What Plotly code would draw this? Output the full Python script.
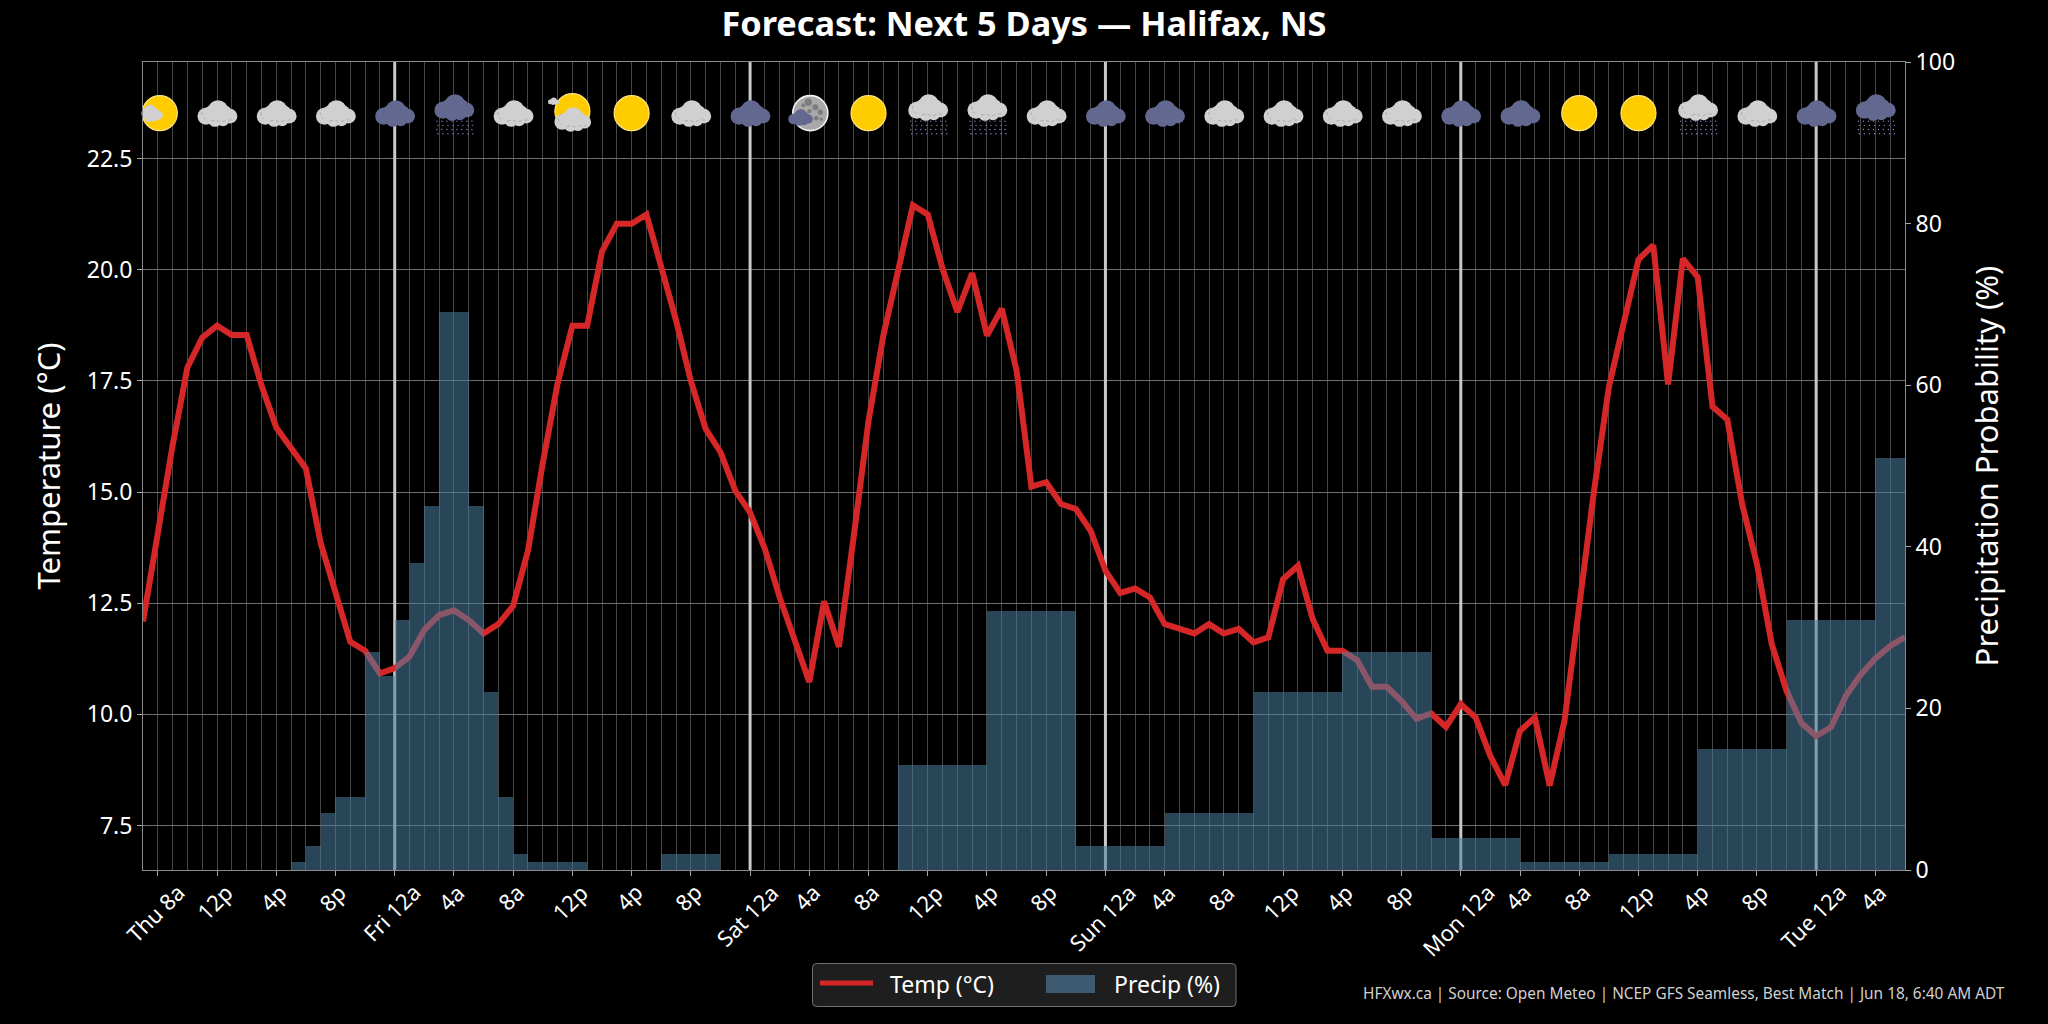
import plotly.graph_objects as go

# Hourly forecast, hour 0 = Thu 7 AM
hours = list(range(120))
temp_c = [12.09, 14.15, 16.05, 17.8, 18.47, 18.74, 18.53, 18.53, 17.4, 16.45, 15.97, 15.53,
          13.85, 12.68, 11.63, 11.43, 10.92, 11.04, 11.3, 11.9, 12.23, 12.34, 12.12, 11.82,
          12.03, 12.44, 13.68, 15.65, 17.44, 18.74, 18.74, 20.41, 21.03, 21.03, 21.24, 20.06,
          18.86, 17.5, 16.42, 15.9, 15.03, 14.54, 13.72, 12.63, 11.65, 10.73, 12.54, 11.52,
          14.0, 16.6, 18.52, 19.98, 21.45, 21.24, 20.02, 19.05, 19.92, 18.52, 19.12, 17.73,
          15.12, 15.22, 14.73, 14.62, 14.13, 13.23, 12.73, 12.83, 12.63, 12.03, 11.93, 11.82,
          12.03, 11.82, 11.92, 11.62, 11.73, 13.04, 13.34, 12.14, 11.43, 11.43, 11.22, 10.62,
          10.62, 10.3, 9.9, 10.02, 9.72, 10.23, 9.93, 9.06, 8.41, 9.63, 9.93, 8.4,
          9.85, 12.5, 15.03, 17.36, 18.86, 20.23, 20.55, 17.42, 20.25, 19.83, 16.92, 16.63,
          14.73, 13.38, 11.58, 10.53, 9.81, 9.51, 9.71, 10.41, 10.89, 11.26, 11.54, 11.74]
precip_pct = [0, 0, 0, 0, 0, 0, 0, 0, 0, 0, 1, 3, 7, 9, 9, 27, 24, 31, 38, 45, 69, 69, 45, 22,
              9, 2, 1, 1, 1, 1, 0, 0, 0, 0, 0, 2, 2, 2, 2, 0, 0, 0, 0, 0, 0, 0, 0, 0,
              0, 0, 0, 13, 13, 13, 13, 13, 13, 32, 32, 32, 32, 32, 32, 3, 3, 3, 3, 3, 3, 7,
              7, 7, 7, 7, 7, 22, 22, 22, 22, 22, 22, 27, 27, 27, 27, 27, 27, 4, 4, 4, 4, 4,
              4, 1, 1, 1, 1, 1, 1, 2, 2, 2, 2, 2, 2, 15, 15, 15, 15, 15, 15, 31, 31, 31,
              31, 31, 31, 51, 51, 51]
tick_hours = [1, 5, 9, 13, 17, 21, 25, 29, 33, 37, 41, 45, 49, 53, 57, 61, 65, 69, 73, 77,
              81, 85, 89, 93, 97, 101, 105, 109, 113, 117]
tick_labels = ["Thu 8a", "12p", "4p", "8p", "Fri 12a", "4a", "8a", "12p", "4p", "8p",
               "Sat 12a", "4a", "8a", "12p", "4p", "8p", "Sun 12a", "4a", "8a", "12p", "4p", "8p",
               "Mon 12a", "4a", "8a", "12p", "4p", "8p", "Tue 12a", "4a"]
midnights = [17, 41, 65, 89, 113]
icon_kinds = ["sun_small_cloud", "cloud", "cloud", "cloud", "dark", "dark_rain", "cloud",
              "sun_big_cloud", "sun", "cloud", "dark", "moon_dark", "sun", "cloud_rain",
              "cloud_rain", "cloud", "dark", "dark", "cloud", "cloud", "cloud", "cloud",
              "dark", "dark", "sun", "sun", "cloud_rain", "cloud", "dark", "dark_rain"]

FONT = "Noto Sans"
L, R, T, B = 143, 1905, 62, 870
X_RANGE = [0, 119]
TEMP_RANGE = [6.5, 24.67]
ICON_TEMP = 23.52
PX_PER_HOUR = (R - L) / (X_RANGE[1] - X_RANGE[0])
PX_PER_DEG = (B - T) / (TEMP_RANGE[1] - TEMP_RANGE[0])

GOLD, GOLD_EDGE = "#ffcc00", "#ffe680"
LIGHT, DARK = "#d0d0d0", "#62688f"
DOT_COLOR = "#8d86d8"

# Weather glyphs are assembled from circular markers placed relative to each forecast slot.
mx, my, msize, mcolor, medge, mwidth = [], [], [], [], [], []
ax, ay = [], []


def disc(h, dx, dy, radius, color, edge=None, edge_w=0):
    mx.append(h + dx / PX_PER_HOUR)
    my.append(ICON_TEMP + dy / PX_PER_DEG)
    msize.append(radius * 2)
    mcolor.append(color)
    medge.append(edge or color)
    mwidth.append(edge_w)


def contour(h, dx, dy, scale, pts):
    for ox, oy in pts:
        ax.append(h + (dx + ox * scale) / PX_PER_HOUR)
        ay.append(ICON_TEMP + (dy + oy * scale) / PX_PER_DEG)
    ax.append(None)
    ay.append(None)


def cloud(h, dx=0, dy=0, scale=1.0, color=LIGHT):
    for ox, oy, r in [(1, 3, 10), (-11, -3, 8.5), (13, -3, 7.3), (-2, -7, 6.7), (6, -7, 6), (-5, 0, 8), (7, 0, 8)]:
        disc(h, dx + ox * scale, dy + oy * scale, r * scale, color)
    # faint dotted contour inside the cloud
    if scale > 0.8:
        contour(h, dx, dy, scale, [(-12, 6), (-15, 2), (-15, -2), (-12, -6)])
        contour(h, dx, dy, scale, [(-6, -8), (-1, -7), (4, -9), (9, -7), (15, -7)])


def rain(h):
    for row in range(4):
        for col in range(8):
            disc(h, -17 + col * 5 + (row % 2), -8 - row * 4.2, 0.7, DOT_COLOR)


def sun(h, dy=0):
    disc(h, 0, dy, 17.5, GOLD, GOLD_EDGE, 1.2)


def draw_icon(h, kind):
    if kind == "sun":
        sun(h)
    elif kind == "cloud":
        cloud(h)
    elif kind == "dark":
        cloud(h, color=DARK)
    elif kind == "dark_rain":
        rain(h)
        cloud(h, dy=6, color=DARK)
    elif kind == "cloud_rain":
        rain(h)
        cloud(h, dy=6)
    elif kind == "sun_small_cloud":
        disc(h, 2, 0, 17.5, GOLD, GOLD_EDGE, 1.2)
        cloud(h, dx=-8, dy=0, scale=0.64, color=LIGHT)
    elif kind == "sun_big_cloud":
        sun(h, dy=2)
        cloud(h, dx=-19, dy=12, scale=0.28, color=LIGHT)
        cloud(h, dy=-6, scale=0.92)
    elif kind == "moon_dark":
        disc(h, 1, 0, 17.5, "#a9a9a9", "#f4f4f4", 1.6)
        for ox, oy, r in [(-1, 11, 3.6), (6, 6, 3), (11, 1, 2.6), (0, 2, 2.2), (7, -5, 2.4), (-6, 8, 2), (12, -6, 1.6)]:
            disc(h, ox, oy, r, "#7d7d7d")
        cloud(h, dx=-9, dy=-4, scale=0.62, color=DARK)


for slot, kind in zip(tick_hours, icon_kinds):
    draw_icon(slot, kind)


def px_x(x):
    return (x - L) / (R - L)


def px_y(y):
    return (B - y) / (B - T)


fig = go.Figure()

# Midnight separators run above the gridlines but below everything else
day_x, day_y = [], []
for m in midnights:
    day_x += [m, m, None]
    day_y += [TEMP_RANGE[0], TEMP_RANGE[1], None]
fig.add_trace(go.Scatter(x=day_x, y=day_y, mode="lines", yaxis="y", hoverinfo="skip", showlegend=False,
                         line=dict(color="#c8c8c8", width=3)))
# Temperature line sits on the primary axis, under the translucent bars
fig.add_trace(go.Scatter(x=hours, y=temp_c, mode="lines", name="Temp (°C)", yaxis="y",
                         line=dict(color="#d62728", width=6), showlegend=False))
fig.add_trace(go.Scatter(x=mx, y=my, mode="markers", yaxis="y", hoverinfo="skip", showlegend=False,
                         cliponaxis=False,
                         marker=dict(size=msize, color=mcolor, opacity=1,
                                     line=dict(color=medge, width=mwidth))))
fig.add_trace(go.Scatter(x=ax, y=ay, mode="lines", yaxis="y", hoverinfo="skip", showlegend=False,
                         line=dict(color="rgba(120,120,130,0.6)", width=0.7, dash="dot", shape="spline"),
                         cliponaxis=False))
fig.add_trace(go.Bar(x=hours, y=precip_pct, yaxis="y2", name="Precip (%)", width=1, offset=0,
                     marker=dict(color="rgba(75,125,160,0.55)", line=dict(width=0)),
                     showlegend=False))


def rounded_box(x0, y0, x1, y1, r):
    a0, a1 = px_x(x0), px_x(x1)
    b0, b1 = px_y(y0), px_y(y1)
    rx, ry = r / (R - L), r / (B - T)
    return (f"M{a0 + rx},{b0} L{a1 - rx},{b0} Q{a1},{b0} {a1},{b0 - ry} L{a1},{b1 + ry} "
            f"Q{a1},{b1} {a1 - rx},{b1} L{a0 + rx},{b1} Q{a0},{b1} {a0},{b1 + ry} "
            f"L{a0},{b0 - ry} Q{a0},{b0} {a0 + rx},{b0} Z")


# Legend panel, swatches and labels
shapes = [
    dict(type="path", xref="paper", yref="paper", path=rounded_box(812.5, 963.5, 1236, 1006.5, 4),
         fillcolor="#1e1e1e", line=dict(color="#707070", width=1), layer="above"),
    dict(type="line", xref="paper", yref="paper", x0=px_x(820), x1=px_x(873), y0=px_y(983), y1=px_y(983),
         line=dict(color="#d62728", width=5), layer="above"),
    dict(type="rect", xref="paper", yref="paper", x0=px_x(1046), x1=px_x(1095), y0=px_y(975), y1=px_y(993),
         fillcolor="#3d5a70", line=dict(width=0), layer="above"),
]

annotations = [
    dict(text="Temp (°C)", xref="paper", yref="paper", x=px_x(888), y=px_y(984), xanchor="left", yanchor="middle",
         showarrow=False, font=dict(size=23, color="white", family=FONT)),
    dict(text="Precip (%)", xref="paper", yref="paper", x=px_x(1112), y=px_y(984), xanchor="left", yanchor="middle",
         showarrow=False, font=dict(size=23, color="white", family=FONT)),
    dict(text="HFXwx.ca | Source: Open Meteo | NCEP GFS Seamless, Best Match | Jun 18, 6:40 AM ADT",
         xref="paper", yref="paper", x=px_x(2007), y=px_y(994), xanchor="right", yanchor="middle",
         showarrow=False, font=dict(size=15.4, color="#d0d0d0", family=FONT)),
]
# Slanted hour labels are centred on their ticks
for h, label in zip(tick_hours, tick_labels):
    annotations.append(dict(text=label, xref="x", yref="paper", x=h, y=px_y(876), xanchor="center", yanchor="top",
                            textangle=-45, showarrow=False, borderpad=0, xshift=-3,
                            font=dict(size=22, color="white", family=FONT)))

fig.update_layout(
    width=2048, height=1024,
    paper_bgcolor="black", plot_bgcolor="black",
    margin=dict(l=L, r=2048 - R, t=T, b=1024 - B, autoexpand=False),
    font=dict(family=FONT, color="white"),
    title=dict(text="<b>Forecast: Next 5 Days — Halifax, NS</b>", x=0.5, xanchor="center",
               y=1 - 24 / 1024, yanchor="middle", yref="container",
               font=dict(size=34.3, color="white", family=FONT)),
    bargap=0, barmode="overlay",
    shapes=shapes, annotations=annotations, showlegend=False,
    xaxis=dict(range=X_RANGE, tickmode="array", tickvals=tick_hours, showticklabels=False,
               ticks="outside", ticklen=5, tickcolor="#aaaaaa",
               showgrid=True, gridcolor="#464646", gridwidth=1, zeroline=False,
               minor=dict(tickmode="array", tickvals=hours, showgrid=True, gridcolor="#464646", gridwidth=1, ticks=""),
               showline=True, linecolor="#8a8a8a", linewidth=1, mirror=True),
    yaxis=dict(range=TEMP_RANGE, tickmode="array", tickvals=[7.5, 10, 12.5, 15, 17.5, 20, 22.5],
               ticktext=["7.5", "10.0", "12.5", "15.0", "17.5", "20.0", "22.5"],
               tickfont=dict(size=23, color="white"), ticks="outside", ticklen=5, tickcolor="#aaaaaa",
               title=dict(text="Temperature (°C)", font=dict(size=31, color="white"), standoff=16),
               showgrid=True, gridcolor="#6e6e6e", gridwidth=1, zeroline=False,
               showline=True, linecolor="#8a8a8a", linewidth=1),
    yaxis2=dict(range=[0, 100], overlaying="y", side="right", tickmode="array", tickvals=[0, 20, 40, 60, 80, 100],
                tickfont=dict(size=23, color="white"), ticks="outside", ticklen=5, tickcolor="#aaaaaa",
                title=dict(text="Precipitation Probability (%)", font=dict(size=31, color="white"), standoff=22),
                showgrid=False, zeroline=False, showline=True, linecolor="#8a8a8a", linewidth=1),
)

fig.write_html("out.html")
